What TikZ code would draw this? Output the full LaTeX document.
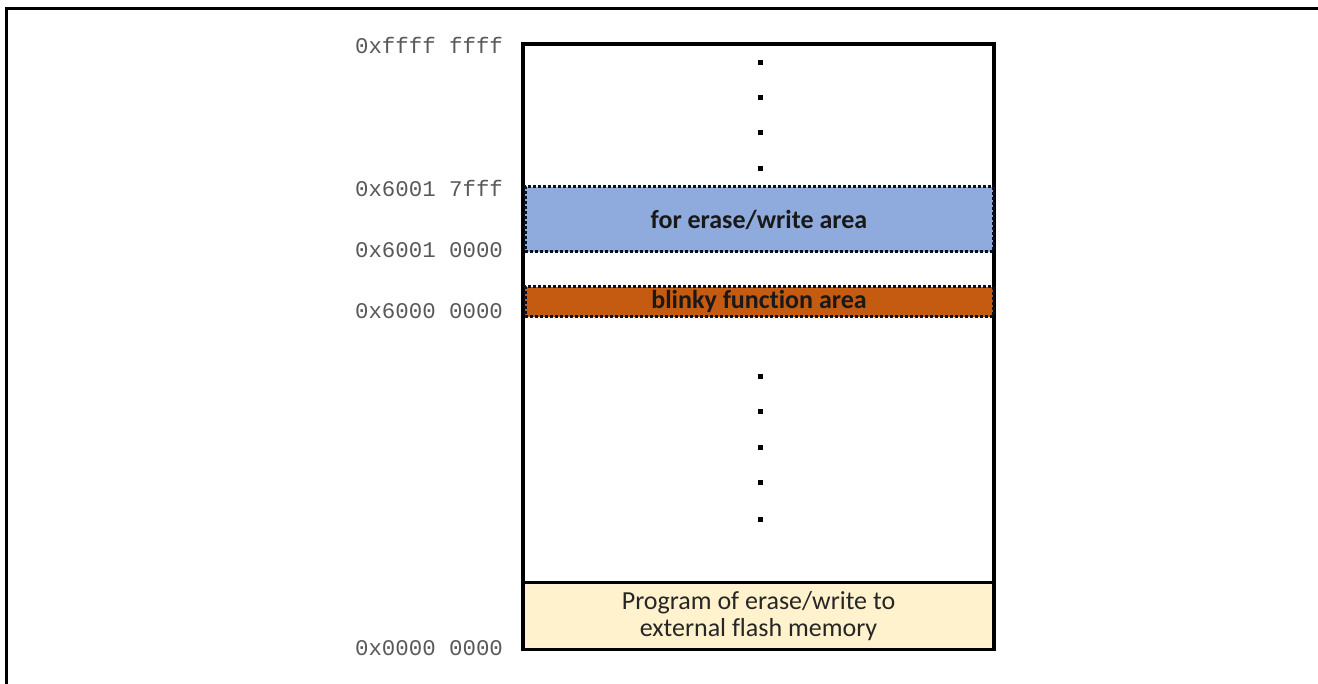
\documentclass[tikz,border=0pt]{standalone}
\usepackage{fontspec}
\newfontfamily\monofnt{Liberation Mono}
\newfontfamily\calfnt[Ligatures={NoCommon}]{Carlito}
\definecolor{bandblue}{HTML}{8FAADC}
\definecolor{bandorange}{HTML}{C55A11}
\definecolor{beige}{HTML}{FFF2CC}
\definecolor{addrgray}{HTML}{595959}
\definecolor{dotline}{HTML}{0A1020}
\begin{document}
\begin{tikzpicture}[x=1pt,y=-1pt,
  addr/.style={font=\monofnt\fontsize{22.4}{24}\selectfont, text=addrgray, inner sep=0pt},
  membox/.style={draw=black, line width=3.5pt, inner sep=0pt, outer sep=0pt},
  band/.style={draw=dotline, line width=3pt, dash pattern=on 3pt off 2pt, inner sep=0pt, outer sep=0pt, minimum width=468pt},
  bandtext/.style={font=\calfnt\bfseries\fontsize{26}{28}\selectfont, text=black!90},
  ellip/.style={fill=black, minimum size=5pt, inner sep=0pt}
]
\useasboundingbox (0,0) rectangle (1318,684);
\draw[line width=2.5pt] (6.5,684) -- (6.5,8.5) -- (1318,8.5);

\node[membox, minimum width=471pt, minimum height=539pt] (mem) at (758.5,313.5) {};
\node[band, fill=bandblue, minimum height=65pt] (erase) at (759,219.5) {};
\node[bandtext] (eraset) at (erase.center) {for erase/write area};
\node[band, fill=bandorange, minimum height=30pt] (blinky) at (759,302) {};
\node[bandtext] (blinkyt) at (759,301) {blinky function area};
\node[membox, fill=beige, minimum width=471pt, minimum height=67pt,
  font=\calfnt\fontsize{26}{27}\selectfont, text=black!85, align=center] (prog) at (758.5,616)
  {Program of erase/write to\\external flash memory};

\foreach \yy [count=\i] in {63,98,133,169} {
  \node[ellip] (dt\i) at (760,\yy) {};
}
\foreach \yy [count=\i] in {377,412,448,483,519} {
  \node[ellip] (db\i) at (760,\yy) {};
}

\node[addr] (a1) at (429,45) {0xffff ffff};
\node[addr] (a2) at (429,188) {0x6001 7fff};
\node[addr] (a3) at (429,250) {0x6001 0000};
\node[addr] (a4) at (429,311) {0x6000 0000};
\node[addr] (a5) at (429,648) {0x0000 0000};
\end{tikzpicture}
\end{document}
